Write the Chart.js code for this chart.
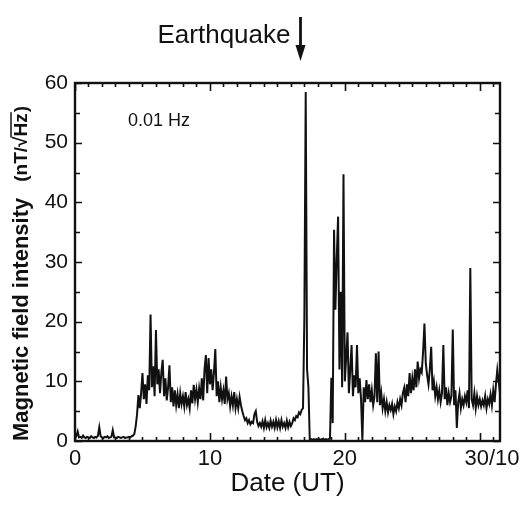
<!DOCTYPE html>
<html>
<head>
<meta charset="utf-8">
<script src="https://cdn.jsdelivr.net/npm/chart.js@4.4.1/dist/chart.umd.min.js"></script>
<style>
html, body { margin: 0; padding: 0; background: #fff; }
#div_quake { width: 532px; height: 506px; }
</style>
</head>
<body>
<div id="div_quake"><canvas id="quake_chart" width="532" height="506"></canvas></div>
<script>
// one row per day, samples every 0.1 day
const sample_step = 0.1;
const intensity_rows = [
    [0.5, 0.8, 1.6, 0.6, 0.7, 0.5, 0.9, 0.6, 0.5, 0.7],
    [0.6, 0.5, 0.8, 0.6, 0.5, 0.7, 0.6, 0.9, 2.3, 0.8],
    [0.6, 0.5, 0.7, 0.6, 0.8, 0.5, 0.6, 0.7, 1.8, 0.6],
    [0.6, 0.5, 0.7, 0.6, 0.5, 0.6, 0.7, 0.5, 0.6, 0.6],
    [0.7, 0.6, 0.8, 0.9, 1.2, 2.5, 4.5, 7.7, 5.5, 8.0],
    [11.4, 7.0, 9.5, 6.2, 11.0, 8.5, 21.2, 9.0, 12.5, 7.5],
    [18.6, 9.5, 12.0, 8.0, 11.5, 13.6, 7.5, 10.5, 6.8, 9.0],
    [12.7, 6.5, 9.0, 5.8, 8.5, 6.0, 7.8, 5.5, 8.0, 6.2],
    [7.5, 5.8, 8.2, 6.0, 7.0, 5.5, 8.5, 6.3, 9.4, 7.0],
    [8.6, 6.5, 8.8, 7.0, 10.5, 6.8, 12.0, 14.4, 8.0, 13.9],
    [9.5, 12.0, 8.5, 11.5, 15.4, 7.5, 10.0, 6.5, 9.0, 7.0],
    [8.5, 6.2, 10.8, 7.0, 8.0, 5.8, 7.5, 6.0, 8.2, 5.5],
    [7.0, 5.5, 7.4, 6.0, 5.0, 4.2, 3.5, 3.8, 3.0, 3.5],
    [2.8, 3.2, 3.0, 4.5, 5.0, 3.2, 2.5, 3.0, 2.4, 3.3],
    [2.2, 3.5, 2.3, 3.0, 2.2, 3.4, 2.4, 3.2, 2.2, 3.5],
    [2.3, 3.3, 2.2, 3.5, 2.4, 3.0, 2.2, 3.4, 2.3, 3.2],
    [2.5, 3.0, 3.8, 3.5, 4.2, 4.0, 4.8, 4.5, 5.2, 5.5],
    [20.6, 58.5, 12.0, 9.0, 0.2, 0.3, 0.2, 0.3, 0.2, 0.3],
    [0.2, 0.3, 0.2, 0.3, 0.4, 0.2, 0.3, 0.2, 0.3, 0.4],
    [10.6, 3.0, 35.4, 22.0, 30.5, 37.6, 12.0, 25.0, 9.0, 44.7],
    [10.0, 14.0, 18.2, 8.0, 12.0, 16.1, 7.5, 11.0, 9.0, 16.1],
    [8.0, 10.5, 7.0, 0.1, 9.0, 6.5, 10.2, 7.0, 9.5, 6.5],
    [8.5, 6.0, 7.5, 14.7, 6.5, 15.0, 6.0, 8.0, 5.5, 7.0],
    [5.0, 6.5, 4.8, 6.0, 5.2, 6.2, 4.5, 5.8, 5.0, 6.5],
    [5.5, 7.0, 6.0, 8.0, 8.9, 6.5, 9.5, 7.5, 11.4, 8.0],
    [10.5, 8.5, 12.0, 9.0, 13.3, 10.5, 12.0, 11.5, 15.0, 19.7],
    [13.0, 11.0, 9.5, 12.0, 15.8, 8.5, 10.0, 7.5, 9.0, 7.0],
    [8.5, 6.5, 8.0, 16.1, 7.0, 9.0, 6.0, 8.0, 6.5, 7.5],
    [18.7, 6.0, 8.5, 2.2, 6.5, 8.0, 5.5, 7.0, 6.0, 7.5],
    [6.5, 8.5, 5.5, 29.0, 7.0, 6.0, 8.0, 5.5, 7.5, 6.0],
    [7.0, 5.8, 6.8, 6.0, 7.5, 5.5, 7.0, 6.2, 7.8, 6.0],
    [8.5, 6.5, 9.5, 11.9, 10.0, 8.0]
];

const x_tick_values = [0, 10, 20, 30];
const x_tick_labels = ['0', '10', '20', '30/10'];
const y_tick_values = [0, 10, 20, 30, 40, 50, 60];
const x_min = 0, x_max = 31.5;
const y_min = 0, y_max = 60;
const quake_day = 16.7;

var points = [];
intensity_rows.forEach(function (row, d) {
    row.forEach(function (v, i) {
        points.push({ x: +(d + i * sample_step).toFixed(1), y: v });
    });
});

const font_family = '"Liberation Sans", Arial, Helvetica, sans-serif';
const ink = '#111';

// frame, inside ticks on all four sides, annotations and titles
const frame_plugin = {
    id: 'frame_plugin',
    afterDraw(chart) {
        const ctx = chart.ctx;
        const a = chart.chartArea;
        const xs = chart.scales.x, ys = chart.scales.y;
        ctx.save();
        ctx.strokeStyle = ink;
        ctx.fillStyle = ink;

        // ticks
        ctx.lineWidth = 1.6;
        ctx.beginPath();
        for (let d = x_min; d <= x_max; d += 1) {
            const px = Math.round(xs.getPixelForValue(d)) + 0.5;
            const len = (d % 10 === 0) ? 8 : 4;
            ctx.moveTo(px, a.bottom); ctx.lineTo(px, a.bottom - len);
            ctx.moveTo(px, a.top); ctx.lineTo(px, a.top + len);
        }
        for (let v = y_min; v <= y_max; v += 5) {
            const py = Math.round(ys.getPixelForValue(v)) + 0.5;
            const len = (v % 10 === 0) ? 7 : 5;
            ctx.moveTo(a.left, py); ctx.lineTo(a.left + len, py);
            ctx.moveTo(a.right, py); ctx.lineTo(a.right - len, py);
        }
        ctx.stroke();

        // frame
        ctx.lineWidth = 2.4;
        ctx.strokeRect(a.left, a.top, a.right - a.left, a.bottom - a.top);

        // x tick labels
        ctx.font = '22px ' + font_family;
        ctx.textBaseline = 'middle';
        x_tick_values.forEach(function (v, i) {
            const px = xs.getPixelForValue(v);
            const lbl = x_tick_labels[i];
            if (lbl.indexOf('/') > 0) {
                const head = lbl.split('/')[0];
                ctx.textAlign = 'left';
                ctx.fillText(lbl, px - ctx.measureText(head).width / 2 - 3, a.bottom + 18);
            } else {
                ctx.textAlign = 'center';
                ctx.fillText(lbl, px, a.bottom + 18);
            }
        });

        // 0.01 Hz
        ctx.font = '18px ' + font_family;
        ctx.textAlign = 'left';
        ctx.fillText('0.01 Hz', 128, 121);

        // Earthquake arrow
        const qx = Math.round(xs.getPixelForValue(quake_day)) + 0.5;
        ctx.font = '26px ' + font_family;
        ctx.textAlign = 'right';
        ctx.fillText('Earthquake', qx - 10, 36);
        ctx.lineWidth = 2.8;
        ctx.beginPath();
        ctx.moveTo(qx, 17); ctx.lineTo(qx, 50);
        ctx.stroke();
        ctx.beginPath();
        ctx.moveTo(qx - 5, 45); ctx.lineTo(qx + 5, 45); ctx.lineTo(qx, 61);
        ctx.closePath();
        ctx.fill();

        // y title, rotated
        ctx.translate(22, a.bottom);
        ctx.rotate(-Math.PI / 2);
        ctx.textAlign = 'left';
        ctx.textBaseline = 'middle';
        ctx.font = 'bold 22px ' + font_family;
        ctx.fillText('Magnetic field intensity', 0, 0);
        let pos = ctx.measureText('Magnetic field intensity').width + 16;
        ctx.font = 'bold 19px ' + font_family;
        const part1 = '(nT/', part2 = '\u221A', part3 = 'Hz', part4 = ')';
        ctx.fillText(part1, pos, 0); pos += ctx.measureText(part1).width;
        ctx.fillText(part2, pos, 0); pos += ctx.measureText(part2).width;
        const hz_w = ctx.measureText(part3).width;
        ctx.fillText(part3, pos, 0);
        ctx.lineWidth = 1.5;
        ctx.beginPath();
        ctx.moveTo(pos - 1, -11); ctx.lineTo(pos + hz_w + 1, -11);
        ctx.stroke();
        pos += hz_w + 1;
        ctx.fillText(part4, pos, 0);
        ctx.restore();
    }
};

new Chart(document.getElementById('quake_chart'), {
    type: 'line',
    data: {
        datasets: [{
            data: points,
            borderColor: ink,
            borderWidth: 2,
            pointRadius: 0,
            tension: 0,
            fill: false
        }]
    },
    options: {
        responsive: false,
        animation: false,
        devicePixelRatio: 1,
        layout: { padding: { top: 83, right: 32, left: 0, bottom: 0 } },
        plugins: { legend: { display: false }, tooltip: { enabled: false } },
        scales: {
            x: {
                type: 'linear',
                min: x_min,
                max: x_max,
                grid: { display: false, drawTicks: false },
                border: { display: false },
                ticks: { display: false },
                title: {
                    display: true,
                    text: 'Date (UT)',
                    color: ink,
                    font: { family: font_family, size: 26 },
                    padding: { top: 0, bottom: 7 }
                },
                afterFit: function (s) { s.height = 65; }
            },
            y: {
                min: y_min,
                max: y_max,
                grid: { display: false, drawTicks: false },
                border: { display: false },
                afterBuildTicks: function (s) {
                    s.ticks = y_tick_values.map(function (v) { return { value: v }; });
                },
                ticks: {
                    color: ink,
                    padding: 7,
                    font: { family: font_family, size: 21 }
                },
                afterFit: function (s) { s.width = 75; }
            }
        }
    },
    plugins: [frame_plugin]
});
</script>
</body>
</html>
